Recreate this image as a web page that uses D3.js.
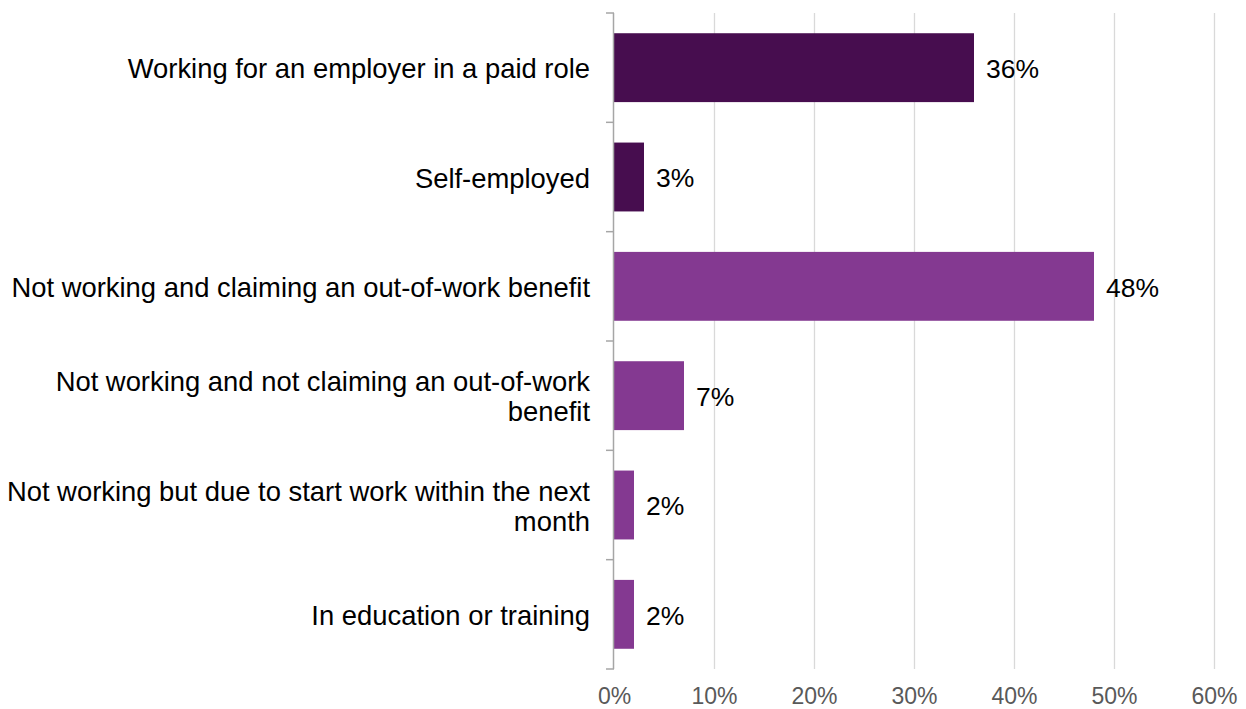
<!DOCTYPE html>
<html>
<head>
<meta charset="utf-8">
<script src="https://cdn.jsdelivr.net/npm/d3@7"></script>
<style>
  html, body { margin: 0; padding: 0; background: #ffffff; }
  svg { display: block; font-family: "Liberation Sans", Arial, sans-serif; }
</style>
</head>
<body>
<svg id="chart" width="1246" height="709"></svg>
<script>
// Employment status shares
const categories = [
  "Working for an employer in a paid role",
  "Self-employed",
  "Not working and claiming an out-of-work benefit",
  "Not working and not claiming an out-of-work benefit",
  "Not working but due to start work within the next month",
  "In education or training"
];
const values = [0.36, 0.03, 0.48, 0.07, 0.02, 0.02];
const groups = ["employed", "employed", "other", "other", "other", "other"];
const tickValues = [0, 0.1, 0.2, 0.3, 0.4, 0.5, 0.6];

const colors = { employed: "#470D4F", other: "#843991" };

const svg = d3.select("#chart");
const plotLeft = 614, plotRight = 1214, plotTop = 13, plotBottom = 669;

const x = d3.scaleLinear().domain([0, 0.6]).range([plotLeft, plotRight]);
const y = d3.scaleBand().domain(categories).range([plotTop, plotBottom])
  .paddingInner(0.37).paddingOuter(0.185);
const step = y.step();

// vertical gridlines
svg.append("g").selectAll("line")
  .data(tickValues.filter(d => d > 0))
  .join("line")
  .attr("x1", d => Math.round(x(d)) + 0.5)
  .attr("x2", d => Math.round(x(d)) + 0.5)
  .attr("y1", plotTop).attr("y2", plotBottom)
  .attr("stroke", "#d9d9d9").attr("stroke-width", 1.3);

// x-axis tick labels
const xAxis = d3.axisBottom(x).tickValues(tickValues)
  .tickFormat(d3.format(".0%")).tickSize(0).tickPadding(0);
const gx = svg.append("g").attr("transform", `translate(0,${plotBottom + 19})`).call(xAxis);
gx.select(".domain").remove();
gx.selectAll("text")
  .attr("fill", "#595959")
  .attr("font-size", 23)
  .attr("font-family", "Liberation Sans, Arial, sans-serif");

// bars
svg.append("g").selectAll("rect")
  .data(categories)
  .join("rect")
  .attr("x", x(0))
  .attr("y", d => y(d))
  .attr("width", (d, i) => x(values[i]) - x(0))
  .attr("height", y.bandwidth())
  .attr("fill", (d, i) => colors[groups[i]]);

// value labels
svg.append("g").selectAll("text")
  .data(categories)
  .join("text")
  .attr("x", (d, i) => x(values[i]) + 12)
  .attr("y", d => y(d) + y.bandwidth() / 2 + 1)
  .attr("dy", "0.35em")
  .attr("font-size", 26.5)
  .attr("fill", "#000")
  .text((d, i) => d3.format(".0%")(values[i]));

// y axis line with category separators
const gy = svg.append("g");
gy.append("line")
  .attr("x1", plotLeft - 0.5).attr("x2", plotLeft - 0.5)
  .attr("y1", plotTop).attr("y2", plotBottom)
  .attr("stroke", "#a6a6a6").attr("stroke-width", 1.5);
gy.selectAll("line.sep")
  .data(d3.range(categories.length + 1))
  .join("line").attr("class", "sep")
  .attr("x1", plotLeft - 8).attr("x2", plotLeft)
  .attr("y1", i => plotTop + i * step).attr("y2", i => plotTop + i * step)
  .attr("stroke", "#a6a6a6").attr("stroke-width", 1.5);

// category labels, wrapped to the available width
const labelX = 590, wrapWidth = 592, lineH = 30;
const labels = svg.append("g").selectAll("text")
  .data(categories)
  .join("text")
  .attr("x", labelX)
  .attr("text-anchor", "end")
  .attr("font-size", 27.4)
  .attr("fill", "#000");

labels.each(function(d) {
  const t = d3.select(this);
  const words = d.split(" ");
  const lines = [];
  let line = [];
  const probe = t.append("tspan");
  words.forEach(w => {
    line.push(w);
    probe.text(line.join(" "));
    if (probe.node().getComputedTextLength() > wrapWidth && line.length > 1) {
      line.pop();
      lines.push(line.join(" "));
      line = [w];
    }
  });
  lines.push(line.join(" "));
  probe.remove();
  const cy = y(d) + y.bandwidth() / 2 + 1;
  const y0 = cy - (lines.length - 1) * lineH / 2;
  lines.forEach((l, i) => {
    t.append("tspan").attr("x", labelX).attr("y", y0 + i * lineH)
      .attr("dy", "0.35em").text(l);
  });
});
</script>
</body>
</html>
